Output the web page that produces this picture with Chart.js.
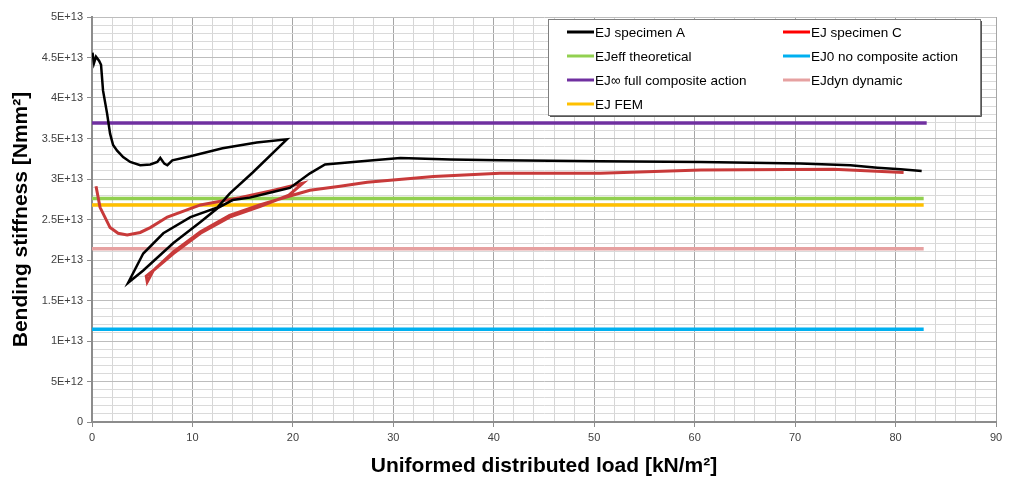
<!DOCTYPE html>
<html>
<head>
<meta charset="utf-8">
<style>
  html, body { margin: 0; padding: 0; background: #fff; }
  #wrap { width: 1016px; height: 479px; }
</style>
</head>
<body>
<div id="wrap"><canvas id="chart"></canvas></div>
<script src="https://cdn.jsdelivr.net/npm/chart.js"></script>
<script>
  // specimen A: load [kN/m2] and bending stiffness [Nmm2]
  const loadA = [0.05, 0.2, 0.4, 0.7, 0.9, 1.1, 1.5, 1.8, 2.1, 2.5, 3.1, 3.8, 4.8, 5.8, 6.5, 6.8, 7.2, 7.5, 8.0, 9.8,
    13.0, 16.4, 19.4, 16.0, 13.7, 12.5, 9.8, 7.1, 5.1, 3.6, 5.1, 8.1, 10.8, 12.5, 14.0, 15.7, 18.0, 19.7, 21.7, 23.2,
    28.0, 30.7, 35.7, 40.6, 50.6, 60.6, 70.5, 75.5, 78.2, 80.5, 82.6];
  const stiffA = [4.56e13, 4.43e13, 4.51e13, 4.46e13, 4.41e13, 4.09e13, 3.81e13, 3.56e13, 3.42e13, 3.35e13, 3.27e13,
    3.21e13, 3.17e13, 3.18e13, 3.21e13, 3.26e13, 3.19e13, 3.17e13, 3.23e13, 3.28e13, 3.38e13, 3.45e13, 3.49e13,
    3.08e13, 2.82e13, 2.65e13, 2.53e13, 2.33e13, 2.08e13, 1.72e13, 1.87e13, 2.21e13, 2.47e13, 2.64e13, 2.74e13,
    2.77e13, 2.84e13, 2.89e13, 3.07e13, 3.18e13, 3.23e13, 3.26e13, 3.24e13, 3.23e13, 3.22e13, 3.21e13, 3.19e13,
    3.17e13, 3.14e13, 3.12e13, 3.10e13];

  // specimen C
  const loadC = [0.4, 0.8, 1.8, 2.6, 3.5, 4.8, 5.8, 7.5, 10.8, 14.7, 18.0, 21.0, 19.6, 16.7, 13.7, 10.8, 8.1, 6.1,
    5.5, 5.4, 6.2, 8.1, 10.8, 13.7, 16.7, 19.7, 21.7, 24.7, 27.4, 34.0, 40.6, 50.6, 60.6, 73.8, 80.8];
  const stiffC = [2.91e13, 2.65e13, 2.40e13, 2.33e13, 2.31e13, 2.34e13, 2.40e13, 2.53e13, 2.68e13, 2.77e13, 2.86e13,
    2.95e13, 2.80e13, 2.66e13, 2.53e13, 2.33e13, 2.08e13, 1.87e13, 1.73e13, 1.80e13, 1.88e13, 2.10e13, 2.35e13,
    2.55e13, 2.68e13, 2.79e13, 2.86e13, 2.91e13, 2.96e13, 3.03e13, 3.07e13, 3.07e13, 3.11e13, 3.12e13, 3.08e13];

  // reference values drawn as flat lines
  const refNames = ['EJeff theoretical', 'EJ0 no composite action', 'EJ\u221E full composite action', 'EJdyn dynamic', 'EJ FEM'];
  const refValues = [2.76e13, 1.144e13, 3.69e13, 2.14e13, 2.68e13];
  const refEnd = [82.8, 82.8, 83.1, 82.8, 82.8];

  const toPts = (xs, ys) => xs.map((x, i) => ({ x: x, y: ys[i] }));
  const flat = (i) => [{ x: 0, y: refValues[i] }, { x: refEnd[i], y: refValues[i] }];

  const boxLegend = {
    id: 'boxLegend',
    afterDatasetsDraw(chart) {
      const ctx = chart.ctx;
      const x0 = 548, y0 = 19, w = 432, h = 96;
      ctx.save();
      ctx.fillStyle = '#fff';
      ctx.fillRect(x0, y0, w, h);
      ctx.strokeStyle = '#7f7f7f';
      ctx.lineWidth = 1;
      ctx.strokeRect(x0 + 0.5, y0 + 0.5, w, h);
      ctx.strokeStyle = '#555';
      ctx.beginPath();
      ctx.moveTo(x0 + w + 1.5, y0 + 2);
      ctx.lineTo(x0 + w + 1.5, y0 + h + 1.5);
      ctx.lineTo(x0 + 2, y0 + h + 1.5);
      ctx.stroke();
      ctx.font = '13.5px "Liberation Sans", Arial, sans-serif';
      ctx.textBaseline = 'middle';
      chart.data.datasets.forEach((ds, i) => {
        const lx = i % 2 === 0 ? 567 : 783;
        const ly = 32 + Math.floor(i / 2) * 24;
        ctx.strokeStyle = ds.legendColor || ds.borderColor;
        ctx.lineWidth = 3;
        ctx.beginPath();
        ctx.moveTo(lx, ly);
        ctx.lineTo(lx + 27, ly);
        ctx.stroke();
        ctx.fillStyle = '#000';
        ctx.fillText(ds.label, lx + 28, ly + 1);
      });
      ctx.restore();
    }
  };

  const tickFont = { family: '"Liberation Sans", Arial, sans-serif', size: 11 };
  const titleFont = { family: '"Liberation Sans", Arial, sans-serif', size: 21, weight: 'bold' };

  new Chart(document.getElementById('chart'), {
    type: 'scatter',
    data: {
      datasets: [
        { label: 'EJ specimen A', data: toPts(loadA, stiffA), borderColor: '#000', borderWidth: 2.5 },
        { label: 'EJ specimen C', data: toPts(loadC, stiffC), borderColor: '#c83a3a', legendColor: '#ff0000', borderWidth: 3 },
        { label: refNames[0], data: flat(0), borderColor: '#92d050', borderWidth: 3.5 },
        { label: refNames[1], data: flat(1), borderColor: '#00b0f0', borderWidth: 3.5 },
        { label: refNames[2], data: flat(2), borderColor: '#7030a0', borderWidth: 3.5 },
        { label: refNames[3], data: flat(3), borderColor: '#e6a1a1', borderWidth: 3.5 },
        { label: refNames[4], data: flat(4), borderColor: '#ffc000', borderWidth: 3.5 }
      ]
    },
    options: {
      responsive: true,
      maintainAspectRatio: false,
      animation: false,
      devicePixelRatio: 1,
      showLine: true,
      elements: { point: { radius: 0 }, line: { tension: 0, borderCapStyle: 'butt' } },
      layout: { padding: { top: 17, right: 20, left: 0, bottom: 0 } },
      plugins: { legend: { display: false }, tooltip: { enabled: false } },
      scales: {
        x: {
          type: 'linear',
          min: 0,
          max: 90,
          afterFit: (s) => { s.height = 57; },
          border: { color: '#8c8c8c', width: 2 },
          grid: {
            color: (c) => (c.tick && c.tick.value % 10 === 0) ? '#a6a6a6' : '#d6d6d6',
            tickColor: (c) => (c.tick && c.tick.value % 10 === 0) ? '#8c8c8c' : 'rgba(0,0,0,0)',
            tickLength: 5
          },
          ticks: {
            stepSize: 2,
            autoSkip: false,
            maxRotation: 0,
            padding: 4,
            color: '#404040',
            font: tickFont,
            callback: (v) => v % 10 === 0 ? String(v) : ''
          },
          title: {
            display: true,
            text: 'Uniformed distributed load [kN/m\u00B2]',
            color: '#000',
            font: titleFont,
            padding: { top: 0, bottom: 0 }
          }
        },
        y: {
          min: 0,
          max: 5e13,
          afterFit: (s) => { s.width = 92; },
          border: { color: '#8c8c8c', width: 2 },
          grid: {
            color: (c) => (c.tick && Math.round(c.tick.value / 1e12) % 5 === 0) ? '#bdbdbd' : '#dadada',
            tickColor: (c) => (c.tick && Math.round(c.tick.value / 1e12) % 5 === 0) ? '#8c8c8c' : 'rgba(0,0,0,0)',
            tickLength: 5
          },
          ticks: {
            stepSize: 1e12,
            autoSkip: false,
            padding: 4,
            color: '#404040',
            font: tickFont,
            callback: (v) => {
              const k = Math.round(v / 1e12);
              if (k % 5 !== 0) return '';
              return k === 0 ? '0' : (k * 1e12).toExponential().toUpperCase();
            }
          },
          title: {
            display: true,
            text: 'Bending stiffness [Nmm\u00B2]',
            color: '#000',
            font: titleFont,
            padding: { top: 9, bottom: 0 }
          }
        }
      }
    },
    plugins: [boxLegend]
  });
</script>
</body>
</html>
